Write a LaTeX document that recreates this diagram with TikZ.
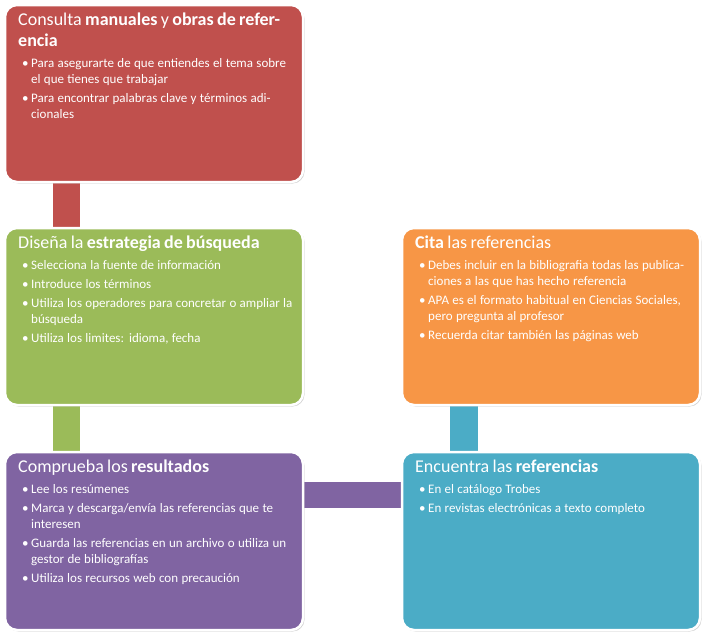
\documentclass[tikz,border=0pt]{standalone}
\usepackage{fontspec}
\setmainfont{Carlito}
\usetikzlibrary{shadows}
\definecolor{cred}{HTML}{C0504D}
\definecolor{cgreen}{HTML}{9BBB59}
\definecolor{cpurple}{HTML}{8064A2}
\definecolor{cteal}{HTML}{4BACC6}
\definecolor{corange}{HTML}{F79646}
\tikzset{
 card/.style={draw=white,line width=2.5pt,rounded corners=12pt,drop shadow={opacity=0.35,shadow xshift=1.5pt,shadow yshift=-1.5pt}},
 txt/.style={anchor=north west,text=white,inner sep=0pt,align=left,text width=275pt},
 bar/.style={draw=none}
}
\newcommand{\ttl}[1]{{\fontsize{18}{21}\selectfont #1\par}\vspace{5pt}}
\newcommand{\itm}[1]{\hangindent=9pt\hangafter=1\makebox[9pt][l]{\textbullet}#1\par\vspace{3pt}}
\begin{document}
\begin{tikzpicture}[x=1pt,y=-1pt]
\useasboundingbox (0,0) rectangle (709,638);
% connectors
\fill[cred] (53,175) rectangle (80,236);
\fill[cgreen] (53,398) rectangle (80,460);
\fill[cpurple] (296,482) rectangle (410,508);
\fill[cteal] (450,398) rectangle (478,460);
% boxes
\fill[cred,card] (5,5) rectangle (303,182);
\fill[cgreen,card] (5,228) rectangle (303,405);
\fill[cpurple,card] (5,452) rectangle (303,630);
\fill[cteal,card] (402,452) rectangle (700,630);
\fill[corange,card] (402,228) rectangle (700,405);
\node[txt] (t1) at (18,13) {\fontsize{13}{16}\selectfont
\ttl{Consulta \textbf{manuales} y \textbf{obras de referencia}}
\leftskip=4pt
\itm{Para asegurarte de que entiendes el tema sobre el que tienes que trabajar}
\itm{Para encontrar palabras clave y términos adicionales}};
\node[txt] (t2) at (18,236) {\fontsize{13}{16}\selectfont
\ttl{Diseña la \textbf{estrategia de búsqueda}}
\leftskip=4pt
\itm{Selecciona la fuente de información}
\itm{Introduce los términos}
\itm{Utiliza los operadores para concretar o ampliar la búsqueda}
\itm{Utiliza los limites: idioma, fecha}};
\node[txt] (t3) at (18,460) {\fontsize{13}{16}\selectfont
\ttl{Comprueba los \textbf{resultados}}
\leftskip=4pt
\itm{Lee los resúmenes}
\itm{Marca y descarga/envía las referencias que te interesen}
\itm{Guarda las referencias en un archivo o utiliza un gestor de bibliografías}
\itm{Utiliza los recursos web con precaución}};
\node[txt] (t4) at (415,460) {\fontsize{13}{16}\selectfont
\ttl{Encuentra las \textbf{referencias}}
\leftskip=4pt
\itm{En el catálogo Trobes}
\itm{En revistas electrónicas a texto completo}};
\node[txt] (t5) at (415,236) {\fontsize{13}{16}\selectfont
\ttl{\textbf{Cita} las referencias}
\leftskip=4pt
\itm{Debes incluir en la bibliografia todas las publicaciones a las que has hecho referencia}
\itm{APA es el formato habitual en Ciencias Sociales, pero pregunta al profesor}
\itm{Recuerda citar también las páginas web}};
\end{tikzpicture}
\end{document}
